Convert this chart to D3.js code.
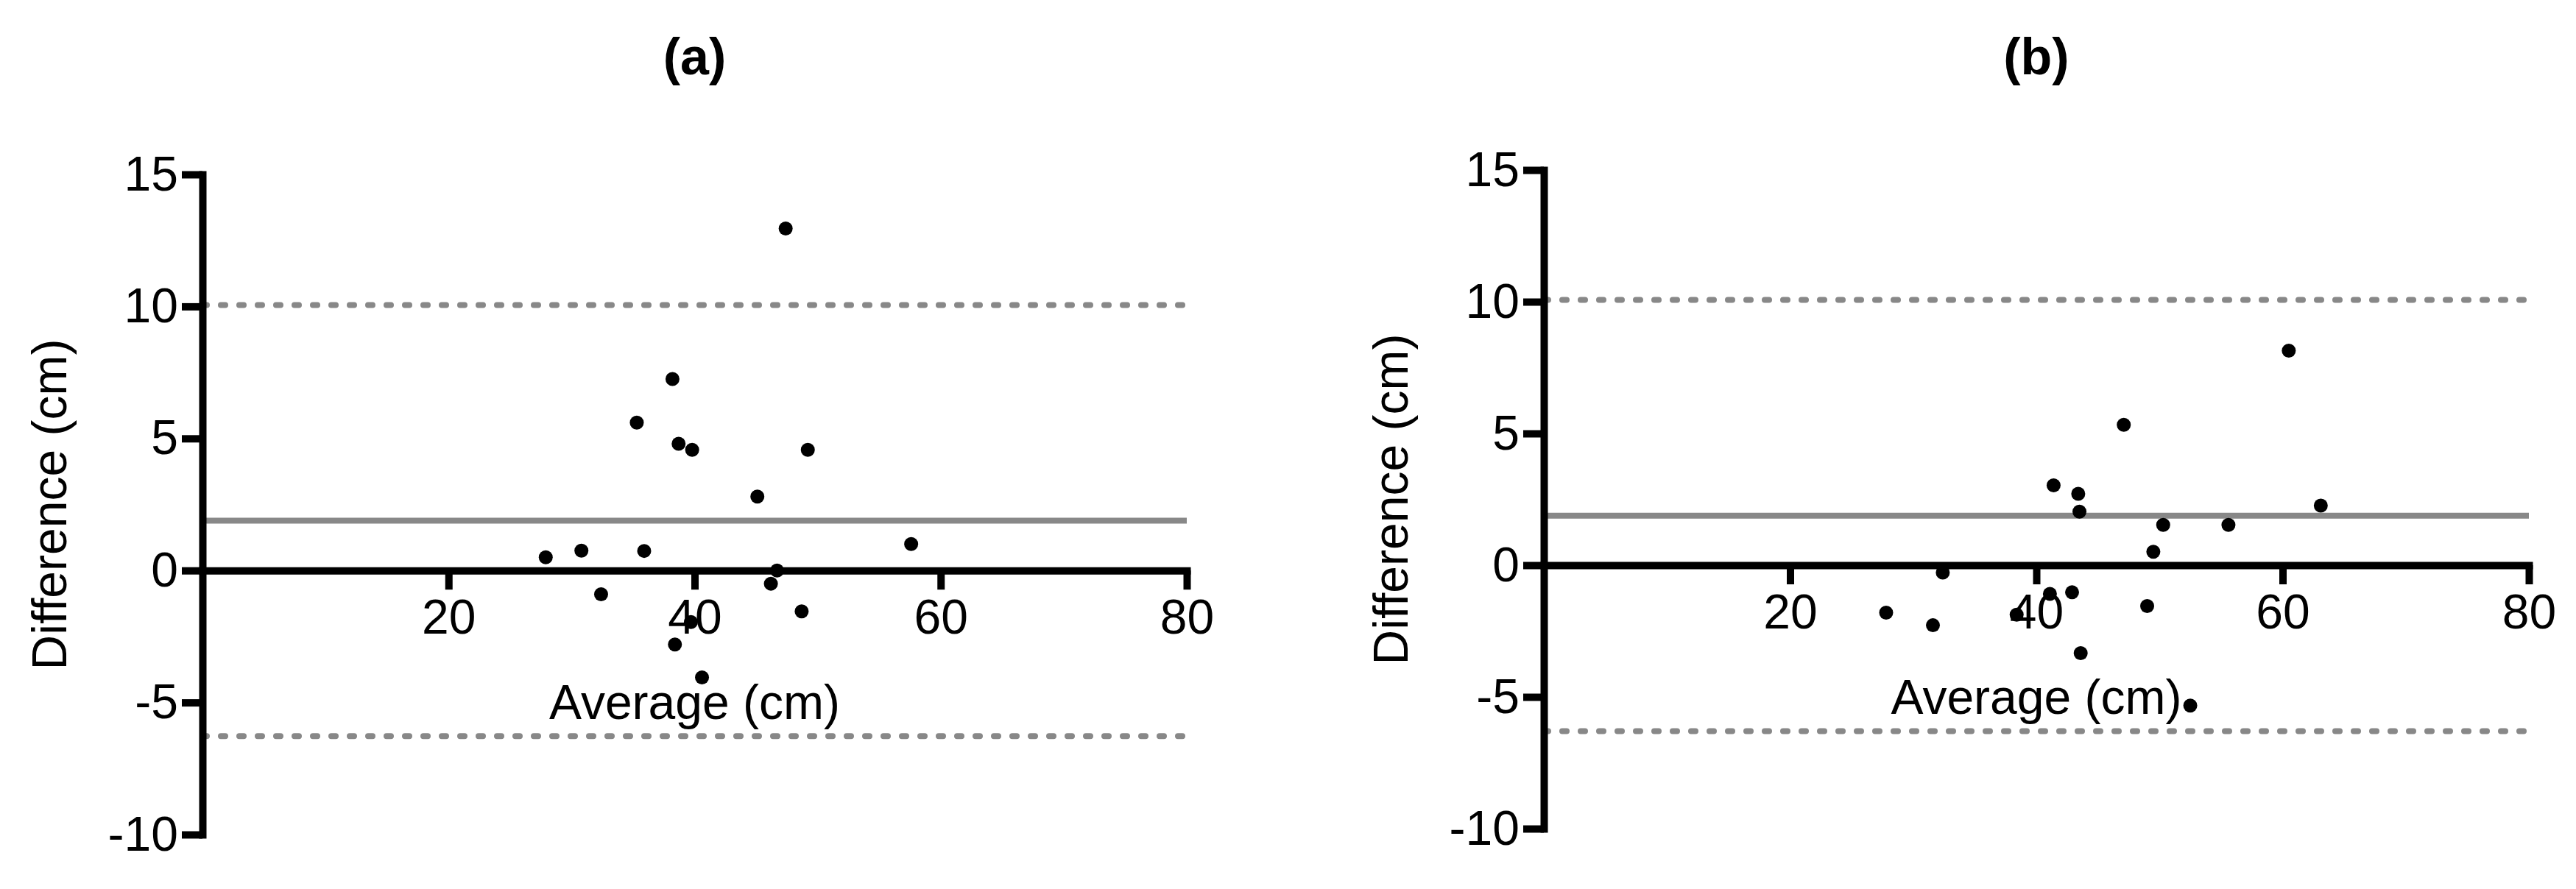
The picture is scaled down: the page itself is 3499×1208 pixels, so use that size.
<!DOCTYPE html>
<html>
<head>
<meta charset="utf-8">
<script src="https://cdn.jsdelivr.net/npm/d3@7"></script>
<style>
  html, body { margin: 0; padding: 0; background: #fff; }
  svg { display: block; }
  text { font-family: "Liberation Sans", Arial, Helvetica, sans-serif; fill: #000; }
</style>
</head>
<body>
<svg id="chart" width="3499" height="1208"></svg>
<script>
// ---- Data ----
const panelTitles = ["(a)", "(b)"];
const xTicks = [20, 40, 60, 80];
const yTicks = [-10, -5, 0, 5, 10, 15];
const xLabel = "Average (cm)";
const yLabel = "Difference (cm)";

// Panel (a)
const avgA  = [47.4, 38.2, 35.3, 38.7, 39.8, 49.2, 45.1, 57.6, 27.9, 30.8, 35.9, 46.7, 32.4, 46.2, 48.7, 38.4, 40.6, 39.7];
const diffA = [12.95, 7.25, 5.6, 4.8, 4.57, 4.57, 2.8, 1.0, 0.5, 0.75, 0.74, 0.0, -0.9, -0.5, -1.55, -2.8, -4.05, -1.95];
const biasA = 1.89, upperA = 10.05, lowerA = -6.27;

// Panel (b)
const avgB  = [60.5, 47.1, 41.4, 43.4, 43.5, 63.1, 50.3, 55.6, 49.5, 32.4, 42.9, 41.1, 49.0, 27.8, 31.6, 38.4, 43.6, 52.5];
const diffB = [8.14, 5.33, 3.03, 2.71, 2.03, 2.26, 1.53, 1.53, 0.51, -0.28, -1.03, -1.09, -1.55, -1.80, -2.28, -1.88, -3.34, -5.33];
const biasB = 1.88, upperB = 10.07, lowerB = -6.30;

const panels = [
  { title: panelTitles[0], avg: avgA, diff: diffA, bias: biasA, upper: upperA, lower: lowerA,
    xRange: [275, 1612], yRange: [1134, 237], yLabelX: 90 },
  { title: panelTitles[1], avg: avgB, diff: diffB, bias: biasB, upper: upperB, lower: lowerB,
    xRange: [2097, 3435], yRange: [1126, 231], yLabelX: 1912 }
];

const svg = d3.select("#chart");
svg.append("rect").attr("width", 3499).attr("height", 1208).attr("fill", "#fff");

const gray = "#888888";
const fontSize = 66;
const fmt = d => String(d);

panels.forEach(p => {
  const x = d3.scaleLinear().domain([0, 80]).range(p.xRange);
  const y = d3.scaleLinear().domain([-10, 15]).range(p.yRange);
  const g = svg.append("g");

  // reference lines
  const lines = [
    { v: p.upper, dash: "6,19" },
    { v: p.lower, dash: "6,19" },
    { v: p.bias, dash: null }
  ];
  lines.forEach(l => {
    const ln = g.append("line")
      .attr("x1", x(0)).attr("x2", x(80))
      .attr("y1", y(l.v)).attr("y2", y(l.v))
      .attr("stroke", gray).attr("stroke-width", 8);
    if (l.dash) ln.attr("stroke-dasharray", l.dash).attr("stroke-linecap", "round");
  });

  // y axis
  const yAxis = d3.axisLeft(y).tickValues(yTicks).tickSize(28).tickSizeOuter(0).tickPadding(5)
    .tickFormat(fmt);
  const yg = g.append("g").attr("transform", `translate(${x(0)},0)`).call(yAxis);
  yg.select(".domain").attr("stroke", "#000").attr("stroke-width", 10).attr("stroke-linecap", "square");
  yg.selectAll(".tick line").attr("stroke", "#000").attr("stroke-width", 10);
  yg.selectAll(".tick text").attr("font-size", fontSize).attr("fill", "#000")
    .style("font-family", '"Liberation Sans", Arial, sans-serif');

  // x axis at y = 0
  const xAxis = d3.axisBottom(x).tickValues(xTicks).tickSize(26).tickSizeOuter(0).tickPadding(13)
    .tickFormat(fmt);
  const xg = g.append("g").attr("transform", `translate(0,${y(0)})`).call(xAxis);
  xg.select(".domain").attr("stroke", "#000").attr("stroke-width", 10).attr("stroke-linecap", "square");
  xg.selectAll(".tick line").attr("stroke", "#000").attr("stroke-width", 10);
  xg.selectAll(".tick text").attr("font-size", fontSize).attr("fill", "#000")
    .style("font-family", '"Liberation Sans", Arial, sans-serif');

  // points
  g.append("g").selectAll("circle")
    .data(p.avg.map((a, i) => [a, p.diff[i]]))
    .join("circle")
    .attr("cx", d => x(d[0]))
    .attr("cy", d => y(d[1]))
    .attr("r", 9.5)
    .attr("fill", "#000");

  // x label
  g.append("text")
    .attr("x", (p.xRange[0] + p.xRange[1]) / 2)
    .attr("y", y(0) + 202)
    .attr("text-anchor", "middle")
    .attr("font-size", fontSize)
    .text(xLabel);

  // y label
  const cy = (p.yRange[0] + p.yRange[1]) / 2;
  g.append("text")
    .attr("transform", `translate(${p.yLabelX},${cy}) rotate(-90)`)
    .attr("text-anchor", "middle")
    .attr("font-size", fontSize)
    .text(yLabel);

  // title
  g.append("text")
    .attr("x", (p.xRange[0] + p.xRange[1]) / 2)
    .attr("y", 101)
    .attr("text-anchor", "middle")
    .attr("font-size", 70)
    .attr("font-weight", "bold")
    .text(p.title);
});
</script>
</body>
</html>
